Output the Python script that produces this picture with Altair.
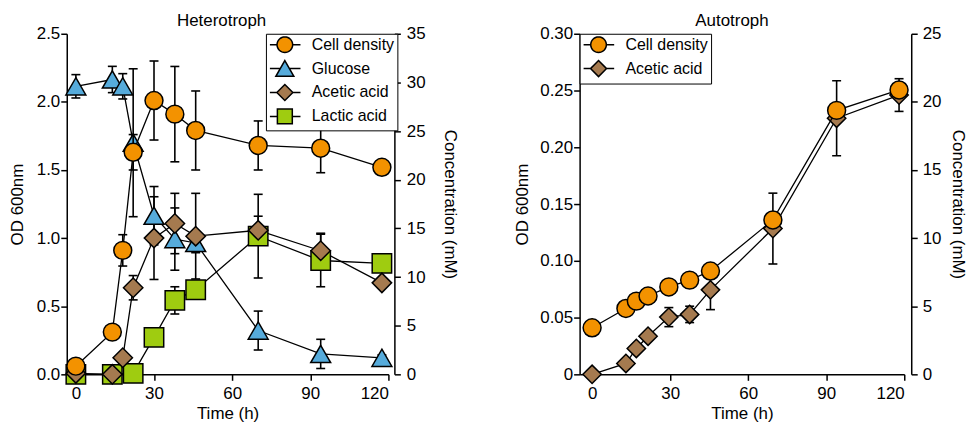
import math
import altair as alt
import pandas as pd

FONT = "Liberation Sans"

# ---------------- Heterotroph ----------------
het_t = [0, 14, 18, 22, 30, 38, 46, 70, 94, 117.5]
het_cell = [0.06, 0.31, 0.91, 1.63, 2.01, 1.91, 1.79, 1.68, 1.66, 1.52]
het_cell_err = [0.02, 0.02, 0.115, 0.13, 0.29, 0.35, 0.29, 0.18, 0.18, 0.02]
het_glu = [29.6, 30.3, 29.6, 23.8, 16.3, 13.9, 13.5, 4.5, 2.1, 1.7]
het_glu_err = [1.2, 1.35, 1.3, 7.6, 3.0, 3.2, 1.0, 2.0, 1.5, 0.3]
het_ace = [0.1, 0.0, 1.7, 8.9, 14.0, 15.5, 14.2, 14.8, 12.7, 9.4]
het_ace_err = [0.0, 0.0, 0.3, 1.25, 4.25, 3.1, 4.4, 1.45, 1.8, 0.3]
het_lac_t = [0, 14, 22, 30, 38, 46, 70, 94, 117.5]
het_lac = [0.0, 0.0, 0.1, 3.8, 7.6, 8.7, 14.2, 11.7, 11.4]
het_lac_err = [0.0, 0.0, 0.0, 0.3, 1.4, 0.5, 4.3, 2.7, 0.3]

# ---------------- Autotroph ----------------
aut_t = [0, 13, 17, 21.5, 29.5, 37.5, 45.5, 69.5, 94, 118]
aut_cell = [0.041, 0.058, 0.0645, 0.069, 0.077, 0.083, 0.091, 0.136, 0.2325, 0.2505]
aut_cell_err = [0.0, 0.0, 0.0, 0.0, 0.0, 0.0, 0.0, 0.003, 0.003, 0.003]
aut_ace = [0.0, 0.8, 1.9, 2.8, 4.2, 4.4, 6.2, 10.7, 18.8, 20.5]
aut_ace_err = [0.0, 0.0, 0.0, 0.0, 0.7, 0.6, 1.45, 2.6, 2.75, 1.2]

x_ticks = [0, 30, 60, 90, 120]
het_od_ticks = [0, 0.5, 1.0, 1.5, 2.0, 2.5]
het_conc_ticks = [0, 5, 10, 15, 20, 25, 30, 35]
aut_od_ticks = [0, 0.05, 0.10, 0.15, 0.20, 0.25, 0.30]
aut_conc_ticks = [0, 5, 10, 15, 20, 25]

C_ORANGE = "#F39200"
C_BLUE = "#56ABDB"
C_BROWN = "#A57A4F"
C_GREEN = "#9FCC10"

TRI = "M0,-0.866L1,0.866L-1,0.866Z"

# legend symbols: a line with the marker on it (units of sqrt(size)/2 = 7px)
_c, _r = 1.143, 1.12
_poly = "".join(
    ("M" if i == 0 else "L")
    + f"{_c + _r * math.cos(2 * math.pi * i / 32):.3f},{_r * math.sin(2 * math.pi * i / 32):.3f}"
    for i in range(32)) + "Z"
L_CIRCLE = f"M-1,0H{_c - _r:.3f}M{_c + _r:.3f},0H3.386" + _poly
L_TRI = "M-1,0H0.484M1.802,0H3.386M1.143,-1.15L2.433,1.1L-0.147,1.1Z"
L_DIAM = "M-1,0H-0.007M2.293,0H3.386M-0.007,0L1.143,-1.15L2.293,0L1.143,1.15Z"
L_SQ = "M-1,0H0.073M2.213,0H3.386M0.073,-1.07H2.213V1.07H0.073Z"


def mk(t, v, e, name):
    return pd.DataFrame({
        "t": t, "v": v,
        "lo": [a - b for a, b in zip(v, e)],
        "hi": [a + b for a, b in zip(v, e)],
        "err": e, "series": name,
    })


def group(frames, styles, yscale, yaxis, x):
    df = pd.concat(frames, ignore_index=True)
    errdf = df[df["err"] > 0]
    ylo = alt.Y("lo:Q", scale=yscale, axis=yaxis)
    yhi = alt.Y("hi:Q", scale=yscale, axis=yaxis)
    yv = alt.Y("v:Q", scale=yscale, axis=yaxis)
    rules = alt.Chart(errdf).mark_rule(color="black", strokeWidth=1.6).encode(
        x=x, y=ylo, y2="hi:Q")
    cap1 = alt.Chart(errdf).mark_tick(orient="horizontal", color="black", size=9,
                                      thickness=1.6, opacity=1).encode(x=x, y=yhi)
    cap2 = alt.Chart(errdf).mark_tick(orient="horizontal", color="black", size=9,
                                      thickness=1.6, opacity=1).encode(x=x, y=ylo)
    lines = alt.Chart(df).mark_line(color="black", strokeWidth=1.3).encode(
        x=x, y=yv, detail="series:N")
    pts = []
    for f, (shape, color, size) in zip(frames, styles):
        pts.append(alt.Chart(f).mark_point(shape=shape, filled=True, fill=color,
                                           stroke="black", strokeWidth=1.5,
                                           size=size, opacity=1).encode(x=x, y=yv))
    return alt.layer(rules, cap1, cap2, lines, *pts)


def legend_layer(names, paths, colors, lx, ly):
    leg = alt.Legend(
        title=None, orient="none", legendX=lx, legendY=ly,
        padding=3, strokeColor="black", fillColor="white",
        labelFontSize=16, labelFont=FONT, labelColor="black",
        labelOffset=27, symbolSize=196, rowPadding=1,
        symbolStrokeColor="black", symbolStrokeWidth=1.5, symbolOpacity=1,
    )
    df = pd.DataFrame({"series": names})
    return alt.Chart(df).transform_filter("false").mark_point(
        filled=True, stroke="black", strokeWidth=1.5, opacity=1).encode(
        shape=alt.Shape("series:N", scale=alt.Scale(domain=names, range=paths), legend=leg),
        fill=alt.Fill("series:N", scale=alt.Scale(domain=names, range=colors), legend=leg),
        stroke=alt.Stroke("series:N", scale=alt.Scale(domain=names, range=["black"] * len(names)),
                          legend=leg),
    )


def xaxis():
    return alt.Axis(values=x_ticks, format="d", title="Time (h)", tickSize=6,
                    labelPadding=5, titlePadding=4, grid=False)


def title(text, dx):
    return alt.TitleParams(text, fontSize=17, fontWeight="normal", font=FONT,
                           color="black", offset=-5, anchor="middle", dx=dx)


# ---------------- left panel ----------------
xl = alt.X("t:Q", scale=alt.Scale(domain=[-3.5, 120], nice=False, zero=False), axis=xaxis())

het_right = group(
    [mk(het_lac_t, het_lac, het_lac_err, "Lactic acid"),
     mk(het_t, het_glu, het_glu_err, "Glucose"),
     mk(het_t, het_ace, het_ace_err, "Acetic acid")],
    [("square", C_GREEN, 380), (TRI, C_BLUE, 400), ("diamond", C_BROWN, 380)],
    alt.Scale(domain=[0, 35], nice=False, zero=False),
    alt.Axis(orient="right", values=het_conc_ticks, format="d", offset=6,
             title="Concentration (mM)", tickSize=6, labelPadding=6,
             titlePadding=15, grid=False),
    xl)

het_left = group(
    [mk(het_t, het_cell, het_cell_err, "Cell density")],
    [("circle", C_ORANGE, 324)],
    alt.Scale(domain=[0, 2.5], nice=False, zero=False),
    alt.Axis(orient="left", values=het_od_ticks, format=".1f", title="OD 600nm",
             tickSize=6, labelPadding=1, titlePadding=10, grid=False),
    xl)

het_leg = legend_layer(["Cell density", "Glucose", "Acetic acid", "Lactic acid"],
                       [L_CIRCLE, L_TRI, L_DIAM, L_SQ],
                       [C_ORANGE, C_BLUE, C_BROWN, C_GREEN], 200, 0)

left = alt.layer(het_right, het_left, het_leg).resolve_scale(y="independent").properties(
    width=323, height=342, title=title("Heterotroph", -6))

# ---------------- right panel ----------------
xr = alt.X("t:Q", scale=alt.Scale(domain=[-4.8, 120], nice=False, zero=False), axis=xaxis())

aut_right = group(
    [mk(aut_t, aut_ace, aut_ace_err, "Acetic acid")],
    [("diamond", C_BROWN, 340)],
    alt.Scale(domain=[0, 25], nice=False, zero=False),
    alt.Axis(orient="right", values=aut_conc_ticks, format="d", offset=7,
             title="Concentration (mM)", tickSize=6, labelPadding=5,
             titlePadding=8, grid=False),
    xr)

aut_left = group(
    [mk(aut_t, aut_cell, aut_cell_err, "Cell density")],
    [("circle", C_ORANGE, 324)],
    alt.Scale(domain=[0, 0.30], nice=False, zero=False),
    alt.Axis(orient="left", values=aut_od_ticks,
             labelExpr="datum.value == 0 ? '0' : format(datum.value, '.2f')",
             title="OD 600nm", tickSize=6, labelPadding=1, titlePadding=8, grid=False),
    xr)

aut_leg = legend_layer(["Cell density", "Acetic acid"], [L_CIRCLE, L_DIAM],
                       [C_ORANGE, C_BROWN], 0, 0)

right = alt.layer(aut_right, aut_left, aut_leg).resolve_scale(y="independent").properties(
    width=326, height=342, title=title("Autotroph", -10))

chart = alt.hconcat(left, right, spacing=55).resolve_scale(
    shape="independent", fill="independent", stroke="independent").properties(
    padding={"top": 3, "left": 0, "right": 0, "bottom": 0}).configure(
    font=FONT).configure_view(stroke=None).configure_axis(
    labelFont=FONT, titleFont=FONT, labelFontSize=17, titleFontSize=17,
    labelColor="black", titleColor="black", titleFontWeight="normal",
    domainColor="black", tickColor="black", domainWidth=1.5, tickWidth=1.5)

chart.save("out.html", embed_options={"renderer": "svg", "actions": False})
